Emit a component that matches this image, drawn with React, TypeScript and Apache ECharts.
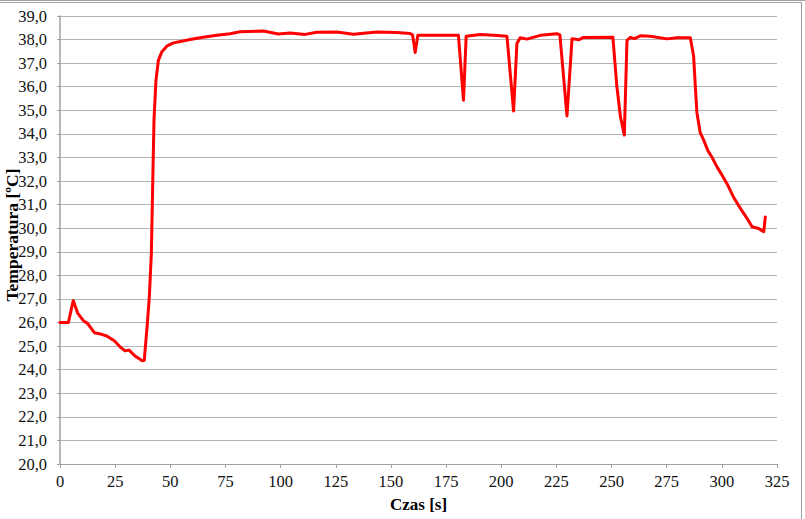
import React, { useEffect, useRef } from "react";
import * as echarts from "echarts";

const timeS = [
  0, 3.8, 6.0, 8.0, 10.6, 12.4, 15.6, 18.9, 21.2, 24.6, 27.2, 29.5, 31.3, 34.0, 37.3, 38.2,
  39.6, 40.5, 41.4, 42.0, 42.6, 43.5, 44.6, 46.1, 48.4, 51.4, 55.2, 59, 63.5, 71, 77.1, 81.6,
  92.2, 99, 104.3, 111.1, 116.4, 125.5, 133, 143.6, 152.7, 158.7, 159.8, 161, 162.2, 180.6,
  182.9, 184.1, 190.5, 196.5, 202.6, 205.6, 207.1, 208.6, 211.7, 217.7, 225.3, 226.6, 229.8,
  232.1, 235.1, 237.3, 250.6, 252.4, 254, 255.8, 257, 258.5, 260.4, 263, 267.6, 275.1, 279.7,
  285.7, 287.2, 288, 288.7, 290.2, 291.7, 293.6, 295.6, 297.8, 300.1, 302.4, 305.4, 308.4,
  311.4, 313.7, 316.7, 319, 319.7,
];

const tempC = [
  26.0, 26.0, 26.93, 26.4, 26.08, 25.97, 25.57, 25.5, 25.43, 25.23, 24.97, 24.8, 24.83, 24.58, 24.38, 24.4,
  25.97, 27.1, 28.93, 31.75, 34.58, 36.27, 37.12, 37.47, 37.72, 37.86, 37.93, 38.0, 38.08, 38.18, 38.25, 38.33,
  38.36, 38.24, 38.28, 38.22, 38.31, 38.32, 38.23, 38.32, 38.3, 38.26, 38.2, 37.45, 38.18, 38.18,
  35.43, 38.14, 38.22, 38.18, 38.14, 34.97, 37.83, 38.08, 38.02, 38.18, 38.25, 38.2, 34.76,
  38.04, 37.99, 38.09, 38.1, 36.03, 34.75, 33.95, 37.97, 38.09, 38.04, 38.16, 38.14, 38.03, 38.08,
  38.08, 37.3, 35.99, 34.9, 34.05, 33.75, 33.3, 33.0, 32.6, 32.25, 31.88, 31.3, 30.84,
  30.42, 30.06, 29.99, 29.85, 30.48,
];

const xTicks = { min: 0, max: 325, interval: 25 };
const yTicks = { min: 20, max: 39, interval: 1 };
const xTitle = "Czas [s]";
const yTitle = "Temperatura [ºC]";

export default function App() {
  const ref = useRef<HTMLDivElement>(null);
  useEffect(() => {
    if (!ref.current) return;
    const chart = echarts.init(ref.current, null, { renderer: "svg" });
    const font = "Liberation Serif";
    chart.setOption({
      animation: false,
      backgroundColor: "#ffffff",
      textStyle: { fontFamily: font },
      grid: { left: 60, right: 28, top: 16, bottom: 55, containLabel: false, outerBoundsMode: "none" },
      xAxis: {
        type: "value",
        min: xTicks.min,
        max: xTicks.max,
        interval: xTicks.interval,
        name: xTitle,
        nameLocation: "middle",
        nameGap: 32,
        nameTextStyle: { fontFamily: font, fontSize: 17, fontWeight: "bold", color: "#000" },
        axisLine: { show: true, lineStyle: { color: "#a0a0a0", width: 1 } },
        axisTick: { show: true, length: 4, lineStyle: { color: "#a0a0a0" } },
        axisLabel: { show: false },
        splitLine: { show: false },
      },
      yAxis: {
        type: "value",
        min: yTicks.min,
        max: yTicks.max,
        interval: yTicks.interval,
        axisLine: { show: true, lineStyle: { color: "#a0a0a0", width: 1.5 } },
        axisTick: { show: true, length: 3, lineStyle: { color: "#a0a0a0" } },
        axisLabel: { show: false },
        splitLine: { show: true, lineStyle: { color: "#b4b4b4", width: 1 } },
      },
      series: [
        {
          type: "line",
          data: timeS.map((t, i) => [t, tempC[i]]),
          showSymbol: false,
          symbol: "none",
          lineStyle: { color: "#ff0000", width: 3, join: "round", cap: "round" },
          smooth: false,
        },
      ],
    });

    const labelFont = "16.5px 'Liberation Serif'";
    const labels: any[] = [];
    const x0 = chart.convertToPixel({ xAxisIndex: 0 }, xTicks.min) as number;
    const yBottom = chart.convertToPixel({ yAxisIndex: 0 }, yTicks.min) as number;
    for (let v = xTicks.min; v <= xTicks.max + 1e-9; v += xTicks.interval) {
      const px = chart.convertToPixel({ xAxisIndex: 0 }, v) as number;
      labels.push({
        type: "text",
        x: px,
        y: yBottom + 9,
        style: { text: String(v), align: "center", verticalAlign: "top", font: labelFont, fill: "#111" },
      });
    }
    for (let v = yTicks.min; v <= yTicks.max + 1e-9; v += yTicks.interval) {
      const py = chart.convertToPixel({ yAxisIndex: 0 }, v) as number;
      labels.push({
        type: "text",
        x: x0 - 13,
        y: py,
        style: {
          text: v.toFixed(1).replace(".", ","),
          align: "right",
          verticalAlign: "middle",
          font: labelFont,
          fill: "#111",
        },
      });
    }

    chart.setOption({
      graphic: [
        { type: "line", shape: { x1: 0, y1: 0.5, x2: 805, y2: 0.5 }, style: { stroke: "#a0a0a0", lineWidth: 1 } },
        { type: "line", shape: { x1: 0, y1: 2.5, x2: 802, y2: 2.5 }, style: { stroke: "#a0a0a0", lineWidth: 1 } },
        { type: "line", shape: { x1: 801.5, y1: 2.5, x2: 801.5, y2: 519 }, style: { stroke: "#a0a0a0", lineWidth: 1 } },
        {
          type: "text",
          x: 12,
          y: 235,
          rotation: Math.PI / 2,
          style: {
            text: yTitle,
            x: 0,
            y: 0,
            align: "center",
            verticalAlign: "middle",
            font: "bold 17.5px 'Liberation Serif'",
            fill: "#000",
          },
        },
        ...labels,
      ],
    });
    return () => chart.dispose();
  }, []);
  return <div ref={ref} style={{ width: 805, height: 519, position: "absolute", left: 0, top: 0 }} />;
}
